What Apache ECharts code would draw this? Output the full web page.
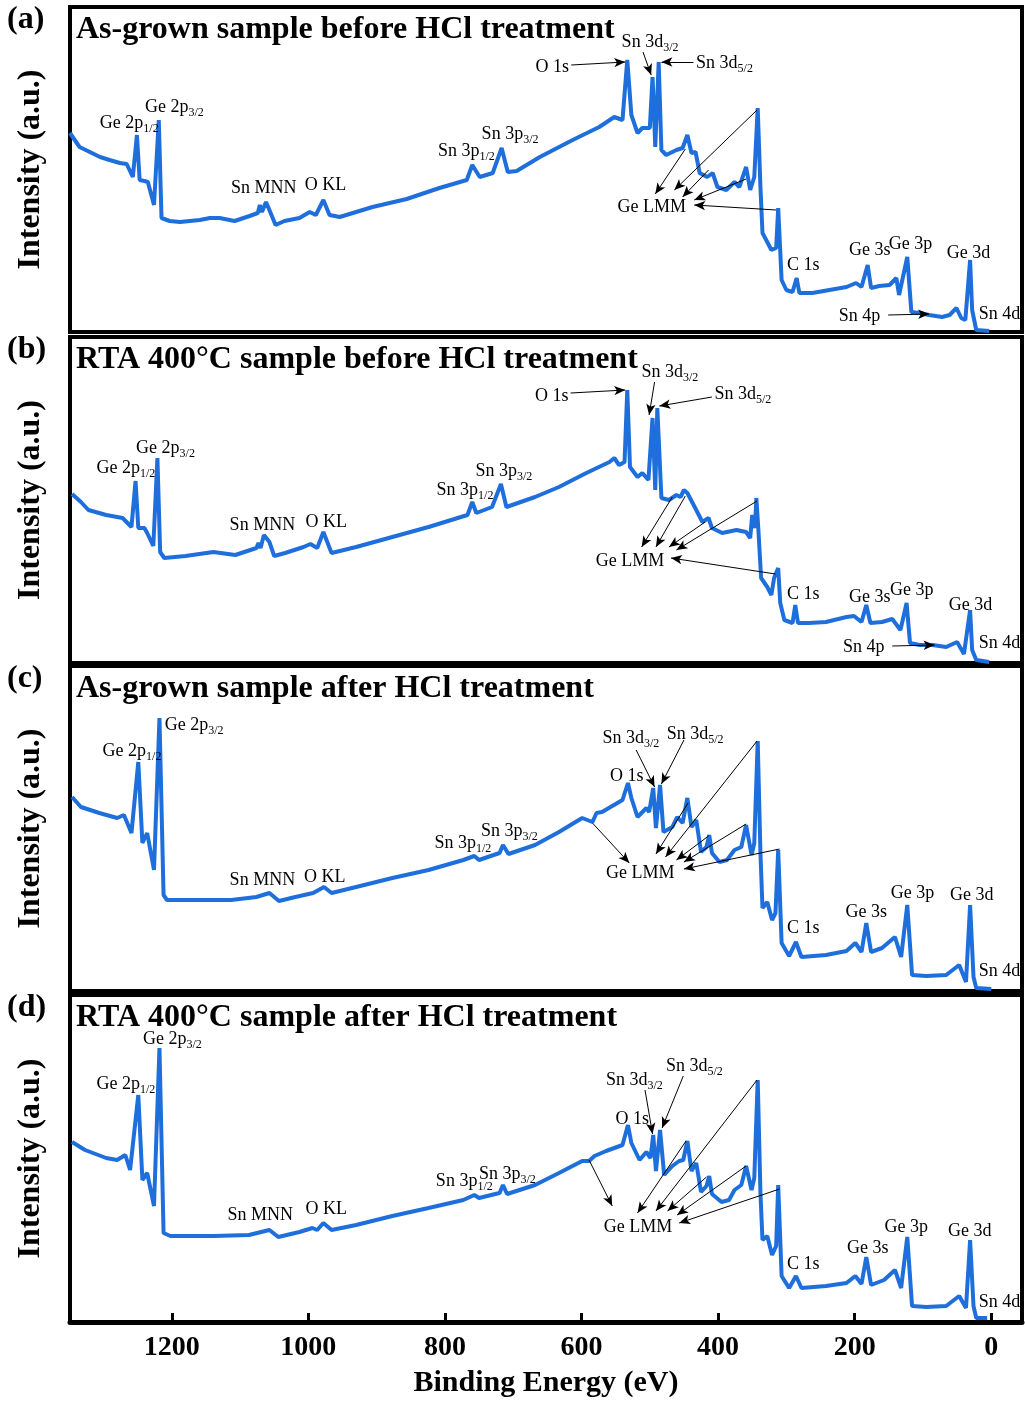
<!DOCTYPE html>
<html>
<head>
<meta charset="utf-8">
<script src="https://cdn.jsdelivr.net/npm/echarts@6/dist/echarts.min.js"></script>
<style>
html,body{margin:0;padding:0;background:#fff;}
#chart{width:1025px;height:1401px;}
</style>
</head>
<body>
<div id="chart"></div>
<script>
// ---------------- DATA ----------------
const xTicks = [0, 200, 400, 600, 800, 1000, 1200];
const panelTags = ["(a)", "(b)", "(c)", "(d)"];
const panelTitles = [
  "As-grown sample before HCl treatment",
  "RTA 400\u00B0C sample before HCl treatment",
  "As-grown sample after HCl treatment",
  "RTA 400\u00B0C sample after HCl treatment"
];
const xTitle = "Binding Energy (eV)";
const yTitle = "Intensity (a.u.)";

// [binding energy (eV), intensity (a.u.)]
const spectrumA = [
  [1349,199],[1335,185],[1320,180],[1305,175],[1291,172],[1276,169],[1266,168],[1257,155],[1251,197],
  [1247,152],[1240,151],[1235,150],[1226,127],[1219,212],[1215,114],[1203,111],[1188,110],[1159,112],
  [1144,114],[1130,114],[1108,111],[1086,116],[1074,119],[1071,127],[1068,120],[1062,130],[1057,122],
  [1048,107],[1035,111],[1013,114],[998,120],[989,117],[978,132],[969,117],[954,115],[906,125],[856,133],
  [808,144],[768,152],[760,167],[749,155],[730,159],[717,184],[708,160],[695,161],[661,175],[613,192],
  [574,205],[552,215],[540,212],[533,272],[527,217],[518,199],[511,204],[500,204],[496,255],[492,185],
  [487,270],[483,182],[476,177],[461,182],[452,184],[445,197],[439,179],[433,180],[427,159],[416,155],
  [408,159],[401,145],[388,142],[376,150],[369,145],[359,165],[353,142],[347,155],[342,224],[338,145],
  [335,99],[328,90],[322,82],[315,84],[312,124],[307,52],[300,42],[291,40],[285,54],[281,39],[262,39],
  [237,42],[212,45],[198,49],[190,45],[181,67],[176,44],[164,46],[149,47],[139,54],[135,37],[123,75],
  [117,20],[105,19],[91,17],[72,15],[61,17],[51,24],[44,14],[38,12],[31,72],[28,22],[22,2],[3,1]
];
const spectrumB = [
  [1346,169],[1333,161],[1322,153],[1296,148],[1272,145],[1259,136],[1253,182],[1249,135],[1240,135],
  [1236,130],[1227,117],[1221,205],[1217,111],[1211,105],[1180,107],[1139,111],[1107,108],[1076,115],
  [1073,120],[1070,115],[1065,128],[1057,121],[1050,107],[1034,110],[1007,116],[997,119],[987,115],
  [978,131],[966,110],[930,116],[877,126],[824,136],[767,148],[760,161],[754,150],[731,156],[718,179],
  [710,156],[668,166],[633,176],[593,190],[559,201],[552,205],[545,198],[537,201],[533,273],[529,196],
  [518,186],[511,190],[502,183],[496,245],[492,173],[489,255],[483,165],[472,163],[461,168],[455,166],
  [450,173],[445,170],[432,153],[423,141],[414,145],[409,135],[394,130],[373,133],[359,131],[353,125],
  [350,148],[346,135],[344,165],[341,133],[337,85],[328,76],[322,68],[318,85],[312,95],[309,60],[303,43],
  [291,40],[287,58],[283,40],[267,40],[242,41],[212,46],[201,47],[190,41],[183,58],[177,40],[160,41],
  [145,44],[133,33],[124,60],[119,20],[105,18],[86,18],[66,16],[50,21],[40,9],[31,53],[28,13],[22,3],[3,1]
];
const spectrumC = [
  [1346,194],[1333,184],[1306,178],[1280,173],[1270,176],[1259,158],[1249,229],[1243,148],[1236,158],
  [1226,121],[1218,273],[1212,96],[1207,91],[1166,91],[1113,91],[1076,94],[1057,98],[1043,90],[1019,94],
  [993,98],[977,104],[966,98],[930,104],[877,113],[824,121],[773,131],[757,135],[750,131],[720,138],
  [715,146],[707,137],[668,146],[633,159],[599,173],[584,169],[578,178],[570,179],[540,191],[532,208],
  [527,193],[518,174],[505,183],[501,179],[495,203],[491,163],[485,206],[480,159],[467,164],[460,174],
  [452,168],[445,193],[439,164],[432,171],[425,139],[417,144],[413,156],[409,138],[398,129],[387,131],
  [376,141],[366,144],[359,166],[351,136],[347,148],[342,250],[338,138],[335,83],[328,89],[321,71],
  [316,78],[312,141],[307,48],[296,35],[286,49],[278,34],[242,36],[212,40],[199,48],[190,39],[183,68],
  [176,39],[160,43],[141,54],[132,34],[123,86],[116,16],[95,15],[66,16],[47,26],[37,9],[31,86],[26,14],
  [22,3],[0,2]
];
const spectrumD = [
  [1346,180],[1327,172],[1296,164],[1280,162],[1268,167],[1261,152],[1249,227],[1243,142],[1236,149],
  [1226,116],[1218,274],[1212,89],[1202,86],[1139,86],[1087,87],[1057,92],[1044,85],[1013,90],[994,94],
  [987,92],[978,99],[966,92],[930,97],[877,106],[824,114],[773,122],[757,127],[750,124],[720,129],
  [715,137],[709,128],[668,137],[633,149],[599,161],[589,161],[581,166],[564,171],[540,177],[532,197],
  [527,179],[515,162],[505,170],[499,164],[495,187],[491,151],[485,192],[479,147],[467,156],[457,161],
  [451,162],[445,181],[439,151],[432,159],[425,130],[417,136],[413,146],[409,128],[395,120],[384,122],
  [376,132],[366,137],[359,156],[351,132],[347,144],[342,242],[338,129],[335,82],[328,86],[321,67],
  [315,76],[312,137],[307,46],[296,34],[286,46],[278,34],[242,36],[212,39],[199,46],[190,38],[183,65],
  [176,37],[157,42],[141,52],[132,34],[123,85],[116,16],[95,15],[66,16],[47,26],[37,14],[31,82],[26,16],
  [22,4],[6,4]
];

// peak labels: [text ("_" starts a subscript), left-edge BE, centre intensity]
const labelsA = [
  ["Ge 2p_1/2",1306,209],["Ge 2p_3/2",1240,225],["Sn MNN",1114,144],["O KL",1006,147],
  ["Sn 3p_1/2",811,181],["Sn 3p_3/2",747,198],["O 1s",668,265],["Sn 3d_3/2",542,290],
  ["Sn 3d_5/2",433,269],["Ge LMM",548,125],["C 1s",300,67],["Ge 3s",209,82],["Ge 3p",151,88],
  ["Ge 3d",66,79],["Sn 4d",19,18],["Sn 4p",224,16]
];
const labelsB = [
  ["Ge 2p_1/2",1311,195],["Ge 2p_3/2",1253,215],["Sn MNN",1116,138],["O KL",1005,141],
  ["Sn 3p_1/2",813,173],["Sn 3p_3/2",756,192],["O 1s",669,267],["Sn 3d_3/2",513,291],
  ["Sn 3d_5/2",406,269],["Ge LMM",580,102],["C 1s",300,69],["Ge 3s",209,66],["Ge 3p",149,73],
  ["Ge 3d",63,58],["Sn 4d",19,20],["Sn 4p",218,16]
];
const labelsC = [
  ["Ge 2p_1/2",1302,240],["Ge 2p_3/2",1211,266],["Sn MNN",1116,111],["O KL",1007,114],
  ["Sn 3p_1/2",816,148],["Sn 3p_3/2",748,160],["Sn 3d_3/2",570,253],["Sn 3d_5/2",476,257],
  ["O 1s",559,215],["Ge LMM",565,118],["C 1s",300,63],["Ge 3s",214,79],["Ge 3p",148,98],
  ["Ge 3d",61,96],["Sn 4d",19,20]
];
const labelsD = [
  ["Ge 2p_1/2",1311,238],["Ge 2p_3/2",1243,283],["Sn MNN",1119,107],["O KL",1005,113],
  ["Sn 3p_1/2",814,141],["Sn 3p_3/2",751,148],["Sn 3d_3/2",565,242],["Sn 3d_5/2",477,256],
  ["O 1s",551,203],["Ge LMM",568,95],["C 1s",300,58],["Ge 3s",212,74],["Ge 3p",157,95],
  ["Ge 3d",64,91],["Sn 4d",19,20]
];

// arrows: [from BE, from intensity, to BE, to intensity]
const arrowsA = [
  [615,267,536,270],[510,280,498,257],[436,270,483,270],
  [448,183,492,138],[343,222,464,142],[414,162,452,135],[359,153,435,132],[315,122,435,127],
  [151,17,91,18]
];
const arrowsB = [
  [616,270,536,273],[493,281,501,248],[409,266,486,257],
  [467,166,512,116],[448,167,491,116],[419,141,472,116],[343,162,461,113],[316,89,469,105],
  [145,17,83,18]
];
const arrowsC = [
  [520,241,493,204],[450,251,483,207],
  [584,168,530,128],[444,188,491,137],[343,250,477,134],[414,155,461,131],[359,167,450,129],[310,142,450,122]
];
const arrowsD = [
  [507,232,496,188],[451,246,482,194],
  [589,162,555,116],[447,181,518,109],[343,242,491,111],[417,145,474,111],[359,156,460,107],[310,133,457,99]
];

// ---------------- LAYOUT / STYLE ----------------
const FONT = '"Liberation Serif", "Times New Roman", serif';
const LINE_COLOR = '#1e6fdc';
const XMIN = -45, XMAX = 1349;
const panels = [
  {top: 7,   height: 325, spec: spectrumA, labels: labelsA, arrows: arrowsA},
  {top: 337, height: 326, spec: spectrumB, labels: labelsB, arrows: arrowsB},
  {top: 666, height: 325, spec: spectrumC, labels: labelsC, arrows: arrowsC},
  {top: 995, height: 327, spec: spectrumD, labels: labelsD, arrows: arrowsD}
];

function richText(t) {
  const i = t.indexOf('_');
  if (i < 0) return t;
  return t.slice(0, i) + '{s|' + t.slice(i + 1) + '}';
}

const grids = [], xAxes = [], yAxes = [], series = [], graphics = [];
panels.forEach((p, k) => {
  const last = k === panels.length - 1;
  grids.push({left: 70, right: 3, top: p.top, height: p.height, show: true,
    containLabel: false, outerBoundsMode: 'none',
    borderColor: '#000', borderWidth: 4, backgroundColor: 'transparent'});
  xAxes.push({
    gridIndex: k, type: 'value', min: XMIN, max: XMAX, inverse: true,
    axisLine: {show: last, onZero: false, lineStyle: {color: '#000', width: 5}},
    splitLine: {show: false},
    axisTick: {show: last, inside: true, length: 9, customValues: xTicks,
      lineStyle: {color: '#000', width: 3}},
    axisLabel: {show: last, customValues: xTicks, margin: 12, color: '#000',
      fontFamily: FONT, fontWeight: 'bold', fontSize: 28, formatter: (v) => String(v)},
    name: last ? xTitle : '', nameLocation: 'middle', nameGap: 46,
    nameTextStyle: {fontFamily: FONT, fontWeight: 'bold', fontSize: 30, color: '#000'}
  });
  yAxes.push({gridIndex: k, type: 'value', min: 0, max: p.height, show: false});
  series.push({
    type: 'line', xAxisIndex: k, yAxisIndex: k, data: p.spec, showSymbol: false,
    symbol: 'none', lineStyle: {color: LINE_COLOR, width: 4}, silent: true, z: 3,
    markPoint: {
      silent: true, symbol: 'circle', symbolSize: 1, itemStyle: {color: 'rgba(0,0,0,0)'},
      label: {show: true, position: 'right', distance: 0, color: '#000', fontFamily: FONT,
        fontSize: 18, lineHeight: 20,
        formatter: (d) => richText(d.name),
        rich: {s: {fontSize: 12, fontFamily: FONT, color: '#000', verticalAlign: 'top',
          lineHeight: 12, padding: [10, 0, 0, 0]}}},
      data: p.labels.map(l => ({name: l[0], coord: [l[1], l[2]]}))
    },
    markLine: {
      silent: true, symbol: ['none', 'arrow'], symbolSize: [7, 11], label: {show: false},
      lineStyle: {color: '#000', width: 1, type: 'solid'},
      emphasis: {disabled: true},
      data: p.arrows.map(a => [{coord: [a[0], a[1]]}, {coord: [a[2], a[3]]}])
    }
  });
  graphics.push({type: 'text', x: 7, y: p.top + 13, z: 10,
    style: {text: panelTags[k], font: 'bold 32px ' + FONT, fill: '#000', verticalAlign: 'middle'}});
  graphics.push({type: 'text', x: 76, y: p.top + 23, z: 10,
    style: {text: panelTitles[k], font: 'bold 32px ' + FONT, fill: '#000', verticalAlign: 'middle'}});
  graphics.push({type: 'text', x: 31, y: p.top + p.height / 2, rotation: Math.PI / 2, z: 10,
    style: {text: yTitle, font: 'bold 32px ' + FONT, fill: '#000', align: 'center', verticalAlign: 'middle'}});
});

const chart = echarts.init(document.getElementById('chart'), null, {renderer: 'canvas'});
chart.setOption({
  animation: false,
  backgroundColor: '#fff',
  grid: grids, xAxis: xAxes, yAxis: yAxes, series: series, graphic: graphics
});
</script>
</body>
</html>
